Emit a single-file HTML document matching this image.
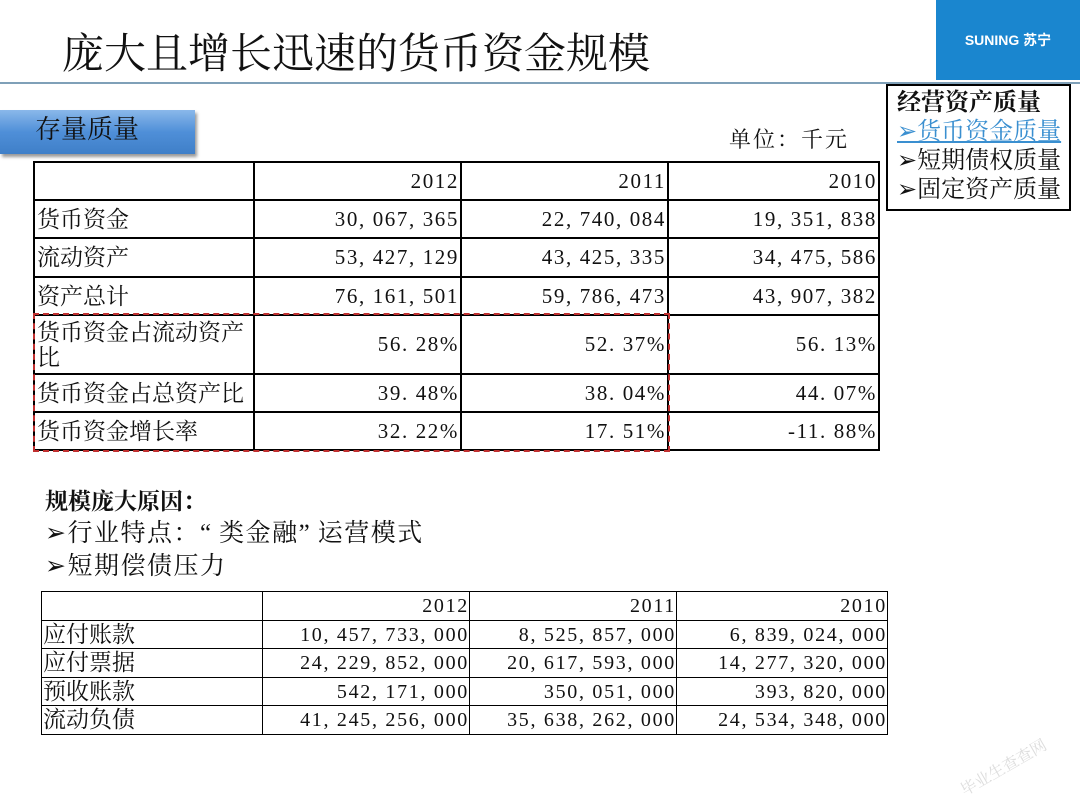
<!DOCTYPE html>
<html><head><meta charset="utf-8"><style>
body{margin:0;width:1080px;height:810px;position:relative;background:#fff;overflow:hidden;font-family:"Liberation Serif","Noto Serif CJK SC",serif;color:#111}
.abs{position:absolute}
table{position:absolute;border-collapse:collapse;table-layout:fixed}
td{border:2px solid #000;padding:0 2px;font-size:23px;line-height:25px;white-space:nowrap;overflow:hidden}
td.n{text-align:right;font-size:21px;letter-spacing:1.6px;padding-right:1px}
#t2 td{border:1px solid #000;font-size:23px;line-height:24px;padding:0 1px}
#t2 td.n{font-size:20px;letter-spacing:1.7px;padding-right:0}
</style></head><body>
<div class="abs" style="left:62px;top:29px;font-size:42px;line-height:52px;letter-spacing:0px">庞大且增长迅速的货币资金规模</div>
<div class="abs" style="left:0;top:82px;width:1080px;height:2px;background:#7fa0b8"></div>
<div class="abs" style="left:936px;top:0;width:144px;height:80px;background:#1a86cf;color:#fff;font-family:'Liberation Sans','Noto Sans CJK SC',sans-serif;font-weight:bold;font-size:14px;line-height:80px;text-align:center">SUNING 苏宁</div>
<div class="abs" style="left:0;top:110px;width:195px;height:44px;background:linear-gradient(#8ab8ea,#4f8fd8 50%,#3f7fc8);box-shadow:2px 3px 3px #999"><span style="position:absolute;left:35px;top:5px;font-size:26px;line-height:30px">存量质量</span></div>
<div class="abs" style="left:729px;top:123px;font-size:22px;letter-spacing:2px">单位：千元</div>
<div class="abs" style="left:886px;top:84px;width:185px;height:127px;border:2px solid #000;box-sizing:border-box;padding:3px 0 0 9px;font-size:24px;line-height:29px;white-space:nowrap">
<div style="font-weight:bold">经营资产质量</div>
<div style="color:#3a8fd0;text-decoration:underline">➢货币资金质量</div>
<div>➢短期债权质量</div>
<div>➢固定资产质量</div>
</div>
<table id="t1" style="left:33px;top:161px;width:845px">
<colgroup><col style="width:220px"><col style="width:207px"><col style="width:207px"><col style="width:211px"></colgroup>
<tr style="height:38px"><td></td><td class="n">2012</td><td class="n">2011</td><td class="n">2010</td></tr>
<tr style="height:38px"><td>货币资金</td><td class="n">30, 067, 365</td><td class="n">22, 740, 084</td><td class="n">19, 351, 838</td></tr>
<tr style="height:39px"><td>流动资产</td><td class="n">53, 427, 129</td><td class="n">43, 425, 335</td><td class="n">34, 475, 586</td></tr>
<tr style="height:38px"><td>资产总计</td><td class="n">76, 161, 501</td><td class="n">59, 786, 473</td><td class="n">43, 907, 382</td></tr>
<tr style="height:59px"><td style="white-space:normal;word-break:break-all">货币资金占流动资产比</td><td class="n">56. 28%</td><td class="n">52. 37%</td><td class="n">56. 13%</td></tr>
<tr style="height:38px"><td>货币资金占总资产比</td><td class="n">39. 48%</td><td class="n">38. 04%</td><td class="n">44. 07%</td></tr>
<tr style="height:38px"><td>货币资金增长率</td><td class="n">32. 22%</td><td class="n">17. 51%</td><td class="n">-11. 88%</td></tr>
</table>
<div class="abs" style="left:33px;top:313px;width:633px;height:135px;border:2px dashed #c03030"></div>
<div class="abs" style="left:45px;top:488px;font-size:23px;font-weight:bold;line-height:28px">规模庞大原因：</div>
<div class="abs" style="left:45px;top:519px;font-size:25px;line-height:30px;letter-spacing:1.5px">➢行业特点：<span style="letter-spacing:8px">“</span>类金融<span style="letter-spacing:8px">”</span>运营模式</div>
<div class="abs" style="left:45px;top:552px;font-size:25px;line-height:30px;letter-spacing:1.5px">➢短期偿债压力</div>
<table id="t2" style="left:41px;top:591px;width:846px">
<colgroup><col style="width:221px"><col style="width:207px"><col style="width:207px"><col style="width:211px"></colgroup>
<tr style="height:29px"><td></td><td class="n">2012</td><td class="n">2011</td><td class="n">2010</td></tr>
<tr style="height:28px"><td>应付账款</td><td class="n">10, 457, 733, 000</td><td class="n">8, 525, 857, 000</td><td class="n">6, 839, 024, 000</td></tr>
<tr style="height:29px"><td>应付票据</td><td class="n">24, 229, 852, 000</td><td class="n">20, 617, 593, 000</td><td class="n">14, 277, 320, 000</td></tr>
<tr style="height:28px"><td>预收账款</td><td class="n">542, 171, 000</td><td class="n">350, 051, 000</td><td class="n">393, 820, 000</td></tr>
<tr style="height:29px"><td>流动负债</td><td class="n">41, 245, 256, 000</td><td class="n">35, 638, 262, 000</td><td class="n">24, 534, 348, 000</td></tr>
</table>
<div class="abs" style="left:955px;top:755px;font-size:16px;color:#ddd;transform:rotate(-30deg)">毕业生查查网</div>
</body></html>
